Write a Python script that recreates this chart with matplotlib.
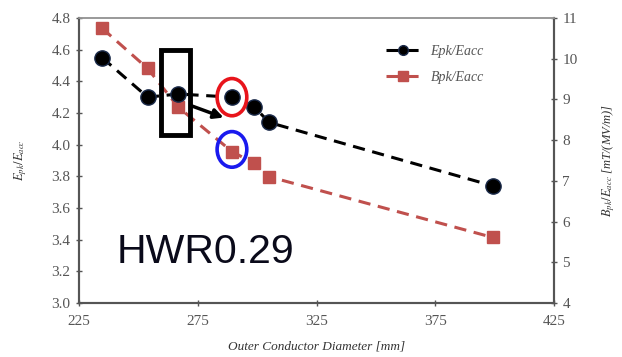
import matplotlib.pyplot as plt
from matplotlib.patches import Rectangle, Ellipse

plt.rcParams["mathtext.fontset"] = "stix"

# data
diameter = [234.7, 253.9, 266.8, 289.4, 298.7, 305.1, 399.2]
epk_eacc = [4.55, 4.30, 4.32, 4.30, 4.24, 4.14, 3.74]
bpk_eacc = [10.75, 9.76, 8.81, 7.72, 7.43, 7.10, 5.61]

xticks = [225, 275, 325, 375, 425]
yticks_left = [3.0, 3.2, 3.4, 3.6, 3.8, 4.0, 4.2, 4.4, 4.6, 4.8]
yticks_right = [4, 5, 6, 7, 8, 9, 10, 11]

red = "#c0504d"
grey = "#555555"
serif = "Liberation Serif"

fig = plt.figure(figsize=(6.22, 3.57), dpi=100)
ax = fig.add_axes([0.127, 0.1513, 0.7637, 0.7983])
ax2 = ax.twinx()

l1, = ax.plot(diameter, epk_eacc, linestyle=(0, (4, 2.5)), color="black", lw=2.2,
              marker="o", markersize=11, markerfacecolor="black",
              markeredgecolor="#1a2a4a", zorder=3, label="Epk/Eacc")
l2, = ax2.plot(diameter, bpk_eacc, linestyle=(0, (4, 2.5)), color=red, lw=2.2,
               marker="s", markersize=8.5, markerfacecolor=red,
               markeredgecolor=red, zorder=2, label="Bpk/Eacc")
ax.set_zorder(ax2.get_zorder() + 1)
ax.patch.set_visible(False)

ax.set_xlim(225, 425)
ax.set_ylim(3.0, 4.8)
ax2.set_ylim(4, 11)
ax.set_xticks(xticks)
ax.set_yticks(yticks_left)
ax.set_yticklabels([f"{v:.1f}" for v in yticks_left])
ax2.set_yticks(yticks_right)

for a in (ax, ax2):
    a.tick_params(direction="inout", length=5, width=1, colors="#555555",
                  labelsize=11, labelcolor=grey)
    for lab in a.get_xticklabels() + a.get_yticklabels():
        lab.set_family(serif)
    for side in ("left", "right", "bottom"):
        a.spines[side].set_color("#555555")
        a.spines[side].set_linewidth(1.5)
    a.spines["top"].set_color("#999999")
    a.spines["top"].set_linewidth(1.2)
ax.tick_params(axis="x", pad=6)

ax.set_xlabel("Outer Conductor Diameter [mm]", family=serif, style="italic",
              fontsize=9.5, color="#333333", labelpad=9)
ax.set_ylabel("$E_{pk}/E_{acc}$", family=serif, fontsize=9, color="#333333",
              labelpad=16)
ax2.set_ylabel("$B_{pk}/E_{acc}$ [mT/(MV/m)]", family=serif, style="italic",
               fontsize=9, color="#333333", rotation=90, labelpad=16)

leg = ax.legend(handles=[l1, l2], loc="upper left", bbox_to_anchor=(0.62, 0.95),
                frameon=False, handlelength=2.4, labelspacing=0.95,
                prop={"family": serif, "style": "italic", "size": 10})
for h in leg.legend_handles:
    h.set_markersize(7)
for t in leg.get_texts():
    t.set_color(grey)

# label placed in figure pixels, baseline at y=263 from the top
fig.text(117 / 622, 1 - 263 / 357, "HWR0.29", fontsize=29.5,
         family="Liberation Sans", color="#0a0a1a")

# annotation shapes
ax.add_patch(Rectangle((259.5, 4.06), 12.3, 0.54, fill=False, edgecolor="black",
                       lw=3.5, zorder=5))
ax.annotate("", xy=(287, 4.165), xytext=(271.5, 4.25),
            arrowprops=dict(arrowstyle="-|>", color="black", lw=2.5,
                            mutation_scale=14), zorder=5)
ax.add_patch(Ellipse((289.4, 4.30), 12.5, 0.235, fill=False, edgecolor="#e8141b",
                     lw=2.6, zorder=5))
ax.add_patch(Ellipse((289.4, 3.97), 12.5, 0.225, fill=False, edgecolor="#1a1aee",
                     lw=2.6, zorder=5))

fig.savefig("out.png", dpi=100)
